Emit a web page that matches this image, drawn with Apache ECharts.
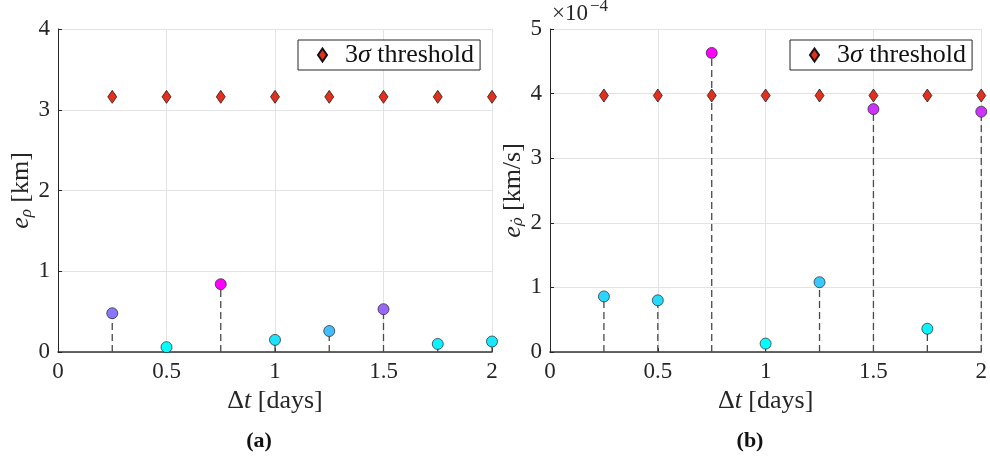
<!DOCTYPE html>
<html>
<head>
<meta charset="utf-8">
<script src="https://cdn.jsdelivr.net/npm/echarts@6/dist/echarts.min.js"></script>
<style>html,body{margin:0;padding:0;background:#fff;}#c{width:990px;height:458px;}</style>
</head>
<body>
<div id="c"></div>
<script>
// ---- data ----
const dt = [0.25, 0.5, 0.75, 1.0, 1.25, 1.5, 1.75, 2.0];
const errPos = [0.48, 0.06, 0.84, 0.15, 0.26, 0.53, 0.10, 0.13];      // km
const thrPos = [3.16, 3.16, 3.16, 3.16, 3.16, 3.16, 3.16, 3.16];      // km
const errVel = [0.86, 0.80, 4.63, 0.13, 1.08, 3.76, 0.36, 3.72];      // x1e-4 km/s
const thrVel = [3.97, 3.97, 3.97, 3.97, 3.97, 3.97, 3.97, 3.97];      // x1e-4 km/s
const xTicks = [0, 0.5, 1, 1.5, 2];
const yTicksPos = [0, 1, 2, 3, 4];
const yTicksVel = [0, 1, 2, 3, 4, 5];

const FONT = '"Liberation Serif", "DejaVu Serif", serif';
const AX = '#262626';
const pairs = (xs, ys) => xs.map((x, i) => [x, ys[i]]);

function xAxis(gi) {
  return {
    type: 'value', gridIndex: gi, min: xTicks[0], max: xTicks[xTicks.length - 1], interval: 0.5,
    name: '{n|Δ}{i|t}{n| [days]}', nameLocation: 'middle', nameGap: 34,
    nameTextStyle: { rich: { n: { fontFamily: FONT, fontSize: 26, color: AX }, i: { fontFamily: FONT, fontSize: 26, fontStyle: 'italic', color: AX } } },
    axisLine: { show: true, onZero: false, lineStyle: { color: '#333', width: 1.5 } },
    axisTick: { show: true, inside: true, length: 4, lineStyle: { color: AX } },
    axisLabel: { fontFamily: FONT, fontSize: 23, color: AX, margin: 8 },
    splitLine: { show: true, lineStyle: { color: '#e3e3e3', width: 1 } }
  };
}
function yAxis(gi, ticks, name) {
  return {
    type: 'value', gridIndex: gi, min: ticks[0], max: ticks[ticks.length - 1], interval: 1,
    name: name, nameLocation: 'middle', nameGap: 21, nameRotate: 90,
    nameTextStyle: { rich: {
      n: { fontFamily: FONT, fontSize: 26, color: AX },
      i: { fontFamily: FONT, fontSize: 26, fontStyle: 'italic', color: AX },
      s: { fontFamily: FONT, fontSize: 17, fontStyle: 'italic', color: AX, padding: [10, 0, 0, 0] },
      d: { fontFamily: '"DejaVu Serif", serif', fontSize: 15, fontStyle: 'italic', color: AX, padding: [10, 0, 0, 0] }
    } },
    axisLine: { show: true, lineStyle: { color: AX, width: 1 } },
    axisTick: { show: true, inside: true, length: 4, lineStyle: { color: AX } },
    axisLabel: { fontFamily: FONT, fontSize: 23, color: AX, margin: 8 },
    splitLine: { show: true, lineStyle: { color: '#e3e3e3', width: 1 } }
  };
}
function stems(gi, ys) {
  return {
    type: 'custom', xAxisIndex: gi, yAxisIndex: gi, silent: true, z: 2,
    data: pairs(dt, ys),
    renderItem: function (params, api) {
      const p0 = api.coord([api.value(0), 0]);
      const p1 = api.coord([api.value(0), api.value(1)]);
      return { type: 'line', shape: { x1: p0[0], y1: p0[1], x2: p1[0], y2: p1[1] },
        style: { stroke: '#4a4a4a', lineWidth: 1.3, lineDash: [7, 4] } };
    }
  };
}
function circles(gi, ys) {
  return {
    type: 'scatter', xAxisIndex: gi, yAxisIndex: gi, z: 4,
    symbol: 'circle', symbolSize: 11,
    itemStyle: { borderColor: '#222', borderWidth: 0.7, opacity: 1 },
    data: pairs(dt, ys)
  };
}
function thresh(gi, ys) {
  return {
    name: 'thr', type: 'scatter', xAxisIndex: gi, yAxisIndex: gi, z: 5,
    symbol: 'diamond', symbolSize: [9, 13],
    itemStyle: { color: '#e2301f', borderColor: '#111', borderWidth: 0.7, opacity: 1 },
    data: pairs(dt, ys)
  };
}
function legend(left) {
  return {
    data: ['thr'], left: left, top: 40, orient: 'vertical',
    icon: 'diamond', itemWidth: 9, itemHeight: 13, itemGap: 0,
    padding: [2, 6, 2, 19], borderColor: AX, borderWidth: 1, backgroundColor: '#fff',
    formatter: () => '{n|3}{i|σ}{n| threshold}',
    textStyle: { padding: [0, 0, 0, 13], rich: {
      n: { fontFamily: FONT, fontSize: 26, color: '#111', lineHeight: 31 },
      i: { fontFamily: FONT, fontSize: 26, fontStyle: 'italic', color: '#111', lineHeight: 31 }
    } },
    selectedMode: false
  };
}

const chart = echarts.init(document.getElementById('c'), null, { renderer: 'canvas' });
chart.setOption({
  animation: false,
  backgroundColor: '#fff',
  grid: [
    { left: 58, top: 29, width: 434, height: 323 },
    { left: 550, top: 29, width: 434, height: 323 }
  ],
  xAxis: [xAxis(0), xAxis(1)],
  yAxis: [
    yAxis(0, yTicksPos, '{i|e}{s|ρ}{n| [km]}'),
    yAxis(1, yTicksVel, '{i|e}{d|ρ̇}{n| [km/s]}')
  ],
  visualMap: [
    { show: false, seriesIndex: 1, dimension: 1, min: Math.min(...errPos), max: Math.max(...errPos), inRange: { color: ['#00ffff', '#ff00ff'] } },
    { show: false, seriesIndex: 4, dimension: 1, min: Math.min(...errVel), max: Math.max(...errVel), inRange: { color: ['#00ffff', '#ff00ff'] } }
  ],
  legend: [legend(298), legend(790)],
  title: [
    { text: '(a)', left: 254, top: 425, textAlign: 'center', textStyle: { fontFamily: FONT, fontWeight: 'bold', fontSize: 22, color: '#111' } },
    { text: '(b)', left: 745, top: 425, textAlign: 'center', textStyle: { fontFamily: FONT, fontWeight: 'bold', fontSize: 22, color: '#111' } }
  ],
  graphic: [
    { type: 'text', left: 552, top: 2, style: { text: '×10', font: '23px ' + FONT, fill: AX } },
    { type: 'text', left: 590, top: -2, style: { text: '−4', font: '17px ' + FONT, fill: AX } }
  ],
  series: [
    stems(0, errPos), circles(0, errPos), thresh(0, thrPos),
    stems(1, errVel), circles(1, errVel), thresh(1, thrVel)
  ]
});
</script>
</body>
</html>
